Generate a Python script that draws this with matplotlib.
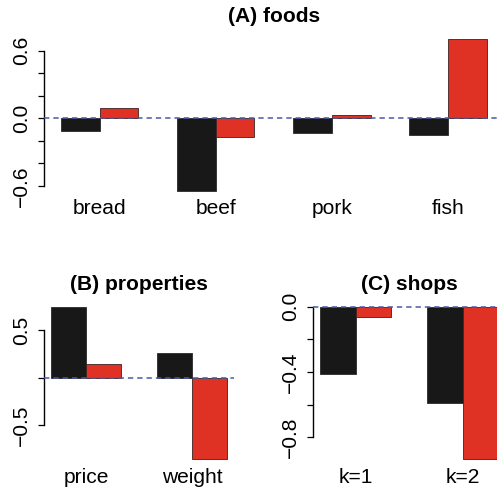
import numpy as np
import matplotlib.pyplot as plt

plt.rcParams['font.family'] = ['Liberation Sans', 'DejaVu Sans']

# bar heights: first (black) and second (red) series per category
foods = ['bread', 'beef', 'pork', 'fish']
foods_black = [-0.11, -0.643, -0.133, -0.148]
foods_red = [0.089, -0.169, 0.027, 0.705]

props = ['price', 'weight']
props_black = [0.75, 0.264]
props_red = [0.141, -0.862]

shops = ['k=1', 'k=2']
shops_black = [-0.414, -0.59]
shops_red = [-0.065, -0.935]

BLACK = '#181818'
RED = '#df3225'
LINE = '#4a5aaa'
FS = 15.1


def bar_panel(ax, labels, black, red, title, ticks, ticklabels):
    n = len(labels)
    # R-style beside barplot: bars of width 1, one-unit gap before each group
    left = 1 + 3 * np.arange(n)
    ax.bar(left + 0.5, black, width=1, color=BLACK, edgecolor='#2a2a2a', linewidth=0.6)
    ax.bar(left + 1.5, red, width=1, color=RED, edgecolor='#3a2222', linewidth=0.6)
    ax.axhline(0, color=LINE, linestyle=(0, (3.5, 2.6)), linewidth=1.1, zorder=5)

    lo = min(min(black), min(red), 0)
    hi = max(max(black), max(red), 0)
    ext = 0.04 * (hi - lo)
    ax.set_ylim(lo - ext, hi + ext)
    xmax = 3 * n
    ax.set_xlim(1 - 0.04 * (xmax - 1), xmax + 0.04 * (xmax - 1))

    for s in ['top', 'right', 'bottom']:
        ax.spines[s].set_visible(False)
    ax.spines['left'].set_bounds(ticks[0], ticks[-1])
    ax.spines['left'].set_linewidth(1.0)
    ax.set_yticks(ticks)
    ax.set_yticklabels(ticklabels, rotation=90, va='center', fontsize=FS)
    ax.tick_params(axis='y', length=4.3, width=0.9, pad=5)

    ax.set_xticks(left + 1)
    ax.set_xticklabels(labels, fontsize=FS)
    ax.tick_params(axis='x', length=0, pad=1.5)
    ax.set_title(title, fontsize=FS, fontweight='bold', pad=7.5)


fig = plt.figure(figsize=(4.97, 4.91), dpi=100)

ax_a = fig.add_axes([0.0885, 0.5994, 0.925, 0.3336])
bar_panel(ax_a, foods, foods_black, foods_red, '(A) foods',
          [-0.6, -0.4, -0.2, 0.0, 0.2, 0.4, 0.6],
          ['\u22120.6', '', '', '0.0', '', '', '0.6'])

ax_b = fig.add_axes([0.0877, 0.0521, 0.3837, 0.3356])
bar_panel(ax_b, props, props_black, props_red, '(B) properties',
          [-0.5, 0.0, 0.5], ['\u22120.5', '', '0.5'])

ax_c = fig.add_axes([0.6296, 0.0521, 0.3877, 0.3356])
bar_panel(ax_c, shops, shops_black, shops_red, '(C) shops',
          [-0.8, -0.6, -0.4, -0.2, 0.0],
          ['\u22120.8', '', '\u22120.4', '', '0.0'])

fig.savefig('out.png', dpi=100)
